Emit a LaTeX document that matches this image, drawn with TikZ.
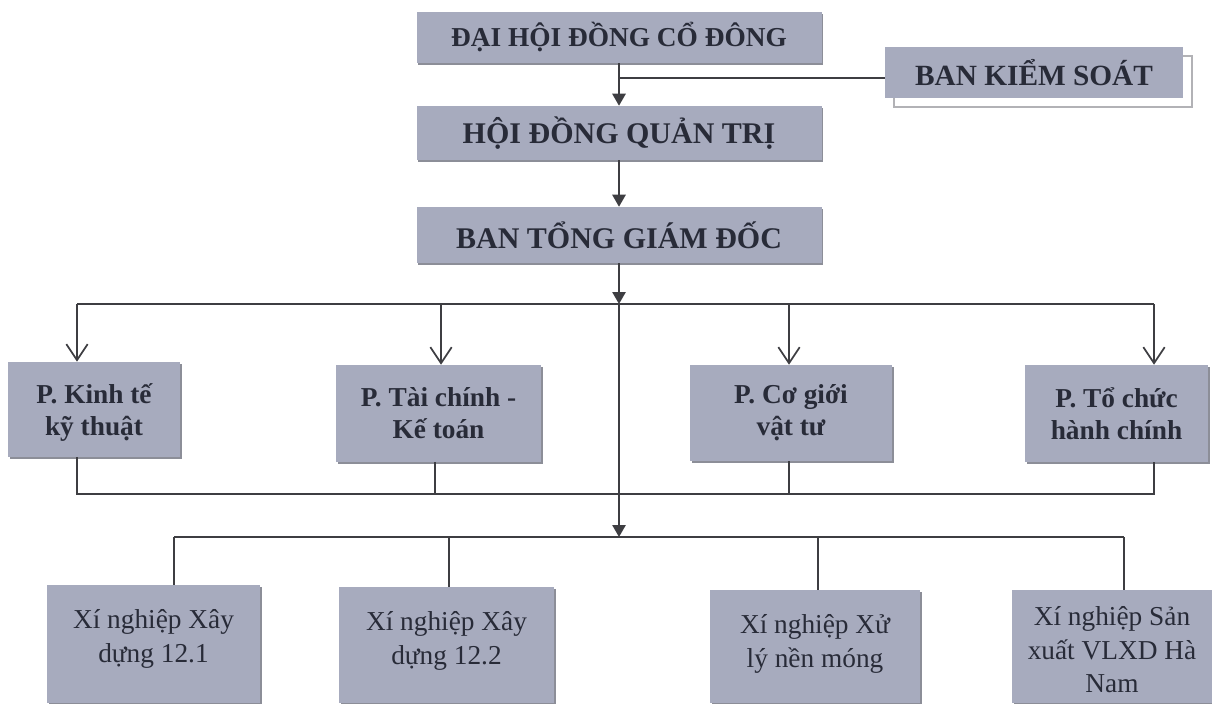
\documentclass[tikz,border=0pt]{standalone}
\usepackage{fontspec}
\setmainfont{Liberation Serif}
\usetikzlibrary{arrows.meta,shadows}

\definecolor{boxfill}{RGB}{167,171,190}
\definecolor{ink}{RGB}{40,43,56}
\definecolor{wirecol}{RGB}{62,62,66}
\definecolor{shade}{RGB}{140,142,152}
\definecolor{frame}{RGB}{178,178,182}

\tikzset{
  boxsize/.style 2 args={minimum width=#1*0.75pt, minimum height=#2*0.75pt},
  unit/.style={fill=boxfill, text=ink, inner sep=0pt, align=center,
    drop shadow={shadow xshift=1.2pt, shadow yshift=-1.5pt, fill=shade, opacity=1}},
  board/.style={unit, font=\bfseries\fontsize{22.5}{26}\selectfont},
  audit/.style={fill=boxfill, text=ink, inner sep=0pt, font=\bfseries\fontsize{22}{26}\selectfont,
    drop shadow={shadow xshift=6.5pt, shadow yshift=-6.5pt, fill=none, draw=frame, line width=1.4pt, opacity=1}},
  dept/.style={unit, font=\bfseries\fontsize{20.5}{24}\selectfont},
  plantbox/.style={unit},
  planttext/.style={text=ink, inner sep=0pt, align=center, anchor=north, font=\fontsize{20.5}{26}\selectfont},
  wire/.style={draw=wirecol, line width=1.3pt},
  open/.style={-{Straight Barb[length=12pt,width=16pt]}},
}

\begin{document}
\begin{tikzpicture}[x=0.75pt, y=-0.75pt, >={Triangle[length=9pt,width=10pt]}]
    \useasboundingbox (0,0) rectangle (1212,703);
    \clip (0,0) rectangle (1212,703);

    % Top of the chart
    \node[board, boxsize={405}{51}, font=\bfseries\fontsize{20.5}{24}\selectfont] (dh) at (619,37.5) {ĐẠI HỘI ĐỒNG CỔ ĐÔNG};
    \node[audit, boxsize={298}{51}] (bks) at (1034,72.5) {BAN KIỂM SOÁT};
    \node[board, boxsize={405}{54}] (hd) at (619,133) {HỘI ĐỒNG QUẢN TRỊ};
    \node[board, boxsize={405}{56}] (tgd) at (619,235) {BAN TỔNG GIÁM ĐỐC};

    % Departments
    \node[dept, boxsize={172}{95}, text depth=0pt] (kt) at (94,409.5) {P. Kinh tế\\kỹ thuật};
    \node[dept, boxsize={205}{97}] (tc) at (438.5,413.5) {P. Tài chính -\\Kế toán};
    \node[dept, boxsize={202}{96}] (cg) at (791,413) {P. Cơ giới\\vật tư};
    \node[dept, boxsize={183}{97}] (tcc) at (1116.5,413.5) {P. Tổ chức\\hành chính};

    % Enterprises (boxes run off the bottom edge)
    \node[plantbox, boxsize={213}{118}] (xn1) at (153.5,644) {};
    \node[plantbox, boxsize={215}{116}] (xn2) at (446.5,645) {};
    \node[plantbox, boxsize={210}{113}] (xn3) at (815,646.5) {};
    \node[plantbox, boxsize={200}{113}] (xn4) at (1112,646.5) {};
    \node[planttext, yshift=-18pt] (xn1t) at (xn1.north) {Xí nghiệp Xây\\dựng 12.1};
    \node[planttext, yshift=-18pt] (xn2t) at (xn2.north) {Xí nghiệp Xây\\dựng 12.2};
    \node[planttext, yshift=-18pt] (xn3t) at (xn3.north) {Xí nghiệp Xử\\lý nền móng};
    \node[planttext, yshift=-12.5pt, font=\fontsize{20.5}{25}\selectfont] (xn4t) at (xn4.north) {Xí nghiệp Sản\\xuất VLXD Hà\\Nam};

    % Junction points
    \coordinate (j1) at (619,78);
    \coordinate (b1) at (619,304);
    \coordinate (b2) at (619,537);
    \coordinate (d1) at (77,304);
    \coordinate (d2) at (441,304);
    \coordinate (d3) at (789,304);
    \coordinate (d4) at (1154,304);
    \coordinate (e1) at (77,494);
    \coordinate (e2) at (435,494);
    \coordinate (e3) at (789,494);
    \coordinate (e4) at (1154,494);
    \coordinate (f1) at (174,537);
    \coordinate (f2) at (449,537);
    \coordinate (f3) at (818,537);
    \coordinate (f4) at (1124,537);

    % Main line
    \draw[wire, ->] (dh.south) -- (hd.north);
    \draw[wire] (j1) -- (j1 -| bks.west);
    \draw[wire, ->] (hd.south) -- (tgd.north);
    \draw[wire, ->] (tgd.south) -- (b1);
    \draw[wire, ->] (b1) -- (b2);

    % Bus to departments
    \draw[wire] (d1) -- (d4);
    \draw[wire, open] (d1) -- (d1 |- kt.north);
    \draw[wire, open] (d2) -- (d2 |- tc.north);
    \draw[wire, open] (d3) -- (d3 |- cg.north);
    \draw[wire, open] (d4) -- (d4 |- tcc.north);

    % Departments joined below
    \draw[wire] (e1 |- kt.south) -- (e1) -- (e4) -- (e4 |- tcc.south);
    \draw[wire] (e2 |- tc.south) -- (e2);
    \draw[wire] (e3 |- cg.south) -- (e3);

    % Bus to enterprises
    \draw[wire] (f1) -- (f4);
    \draw[wire] (f1) -- (f1 |- xn1.north);
    \draw[wire] (f2) -- (f2 |- xn2.north);
    \draw[wire] (f3) -- (f3 |- xn3.north);
    \draw[wire] (f4) -- (f4 |- xn4.north);

\end{tikzpicture}
\end{document}
